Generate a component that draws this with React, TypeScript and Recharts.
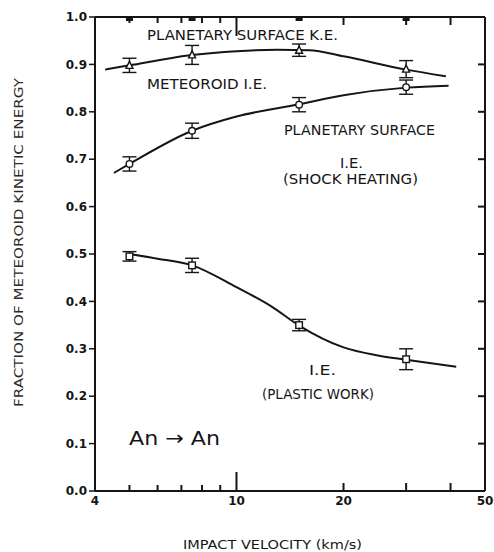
import React from "react";
import {
  ComposedChart,
  ErrorBar,
  Line,
  Scatter,
  XAxis,
  YAxis,
} from "recharts";

// measured impact velocities (km/s)
const SAMPLE_V = [5, 7.5, 15, 30];

// fraction of kinetic energy at each measured velocity, with error half-widths
const KE_MEAN = [0.898, 0.92, 0.93, 0.89];
const KE_ERR = [0.015, 0.02, 0.013, 0.018];
const SHOCK_MEAN = [0.69, 0.76, 0.815, 0.852];
const SHOCK_ERR = [0.015, 0.016, 0.015, 0.015];
const PLASTIC_MEAN = [0.495, 0.476, 0.35, 0.278];
const PLASTIC_ERR = [0.01, 0.015, 0.012, 0.022];
const TOTAL = [1.0, 1.0, 1.0, 1.0];

// hand drawn fit curves
const KE_CURVE_V = [4.27, 5, 7.5, 10, 13, 16, 20, 30, 38.8];
const KE_CURVE = [0.889, 0.898, 0.92, 0.928, 0.931, 0.93, 0.917, 0.889, 0.875];
const SHOCK_CURVE_V = [4.52, 5, 7.5, 10, 15, 20, 30, 39.5];
const SHOCK_CURVE = [0.671, 0.69, 0.76, 0.79, 0.816, 0.835, 0.851, 0.855];
const PLASTIC_CURVE_V = [5, 6, 7.5, 10, 12.5, 15, 20, 25, 30, 41.5];
const PLASTIC_CURVE = [0.5, 0.49, 0.476, 0.43, 0.39, 0.349, 0.303, 0.286, 0.277, 0.262];

const X_TICKS = [4, 5, 6, 7, 8, 9, 10, 20, 30, 40, 50];
const X_LABELS = [4, 10, 20, 50];
const Y_TICKS = [0, 0.1, 0.2, 0.3, 0.4, 0.5, 0.6, 0.7, 0.8, 0.9, 1.0];

const INK = "#151515";
const FONT = "DejaVu Sans, sans-serif";

const pts = (xs: number[], ys: number[], errs?: number[]) =>
  xs.map((x, i) => ({ x, y: ys[i], err: errs ? errs[i] : 0 }));

const tickLen = (v: number) => (v === 10 ? 19 : v >= 20 ? 8 : 6);

function BottomTick({ x, y, payload }: any) {
  const v = payload.value;
  return (
    <g>
      <line x1={x} x2={x} y1={y} y2={y - tickLen(v)} stroke={INK} strokeWidth={2} />
      {X_LABELS.includes(v) && (
        <text x={x} y={y + 14} textAnchor="middle" fontFamily={FONT} fontWeight="bold" fontSize={12} fill={INK}>
          {v}
        </text>
      )}
    </g>
  );
}

// mirrored axes: ticks point into the plot
function TopTick({ x, y, payload }: any) {
  const v = payload.value;
  return <line x1={x} x2={x} y1={y} y2={y + tickLen(v)} stroke={INK} strokeWidth={2} />;
}

function RightTick({ x, y }: any) {
  return <line x1={x} x2={x - 7} y1={y} y2={y} stroke={INK} strokeWidth={2} />;
}

const Triangle = ({ cx, cy }: any) => (
  <polygon
    points={`${cx},${cy - 4} ${cx - 3.5},${cy + 3} ${cx + 3.5},${cy + 3}`}
    fill="#fff"
    stroke={INK}
    strokeWidth={1.4}
  />
);
const Ring = ({ cx, cy }: any) => (
  <circle cx={cx} cy={cy} r={3.3} fill="#fff" stroke={INK} strokeWidth={1.4} />
);
const Box = ({ cx, cy }: any) => (
  <rect x={cx - 3.3} y={cy - 3.3} width={6.6} height={6.6} fill="#fff" stroke={INK} strokeWidth={1.4} />
);
const Solid = ({ cx, cy }: any) => (
  <rect x={cx - 3.5} y={cy} width={7} height={4} fill={INK} />
);
const Nothing = () => <g />;

function Note({ x, y, w, size = 14, children }: any) {
  return (
    <text
      x={x}
      y={y}
      textLength={w}
      lengthAdjust="spacingAndGlyphs"
      fontFamily={FONT}
      fontSize={size}
      fill={INK}
    >
      {children}
    </text>
  );
}

export default function App() {
  return (
    <div style={{ position: "absolute", left: 0, top: 0, width: 494, height: 552, background: "#fff" }}>
      <ComposedChart width={494} height={552} margin={{ top: 0, right: 0, bottom: 0, left: 0 }}>
        <XAxis
          xAxisId="b"
          dataKey="x"
          type="number"
          scale="log"
          domain={[4, 50]}
          allowDataOverflow
          ticks={X_TICKS}
          interval={0}
          height={61}
          tickSize={0}
          tickMargin={0}
          tickLine={false}
          tick={<BottomTick />}
          axisLine={{ stroke: INK, strokeWidth: 2 }}
        />
        <XAxis
          xAxisId="t"
          dataKey="x"
          orientation="top"
          type="number"
          scale="log"
          domain={[4, 50]}
          allowDataOverflow
          ticks={X_TICKS}
          interval={0}
          height={17}
          tickSize={0}
          tickMargin={0}
          tickLine={false}
          tick={<TopTick />}
          axisLine={{ stroke: INK, strokeWidth: 2 }}
        />
        <YAxis
          yAxisId="l"
          type="number"
          domain={[0, 1]}
          ticks={Y_TICKS}
          interval={0}
          width={95}
          tickSize={6}
          tickMargin={2}
          tickFormatter={(v: number) => v.toFixed(1)}
          tick={{ fill: INK, fontSize: 12, fontWeight: "bold", fontFamily: FONT }}
          tickLine={{ stroke: INK, strokeWidth: 1.5 }}
          axisLine={{ stroke: INK, strokeWidth: 2 }}
        />
        <YAxis
          yAxisId="r"
          orientation="right"
          type="number"
          domain={[0, 1]}
          ticks={Y_TICKS.slice(1, 10)}
          interval={0}
          width={9}
          tickSize={0}
          tickMargin={0}
          tickLine={false}
          tick={<RightTick />}
          axisLine={{ stroke: INK, strokeWidth: 2 }}
        />

        <Line xAxisId="b" yAxisId="l" data={pts(KE_CURVE_V, KE_CURVE)} dataKey="y" type="monotone" stroke={INK} strokeWidth={2} dot={false} isAnimationActive={false} />
        <Line xAxisId="b" yAxisId="l" data={pts(SHOCK_CURVE_V, SHOCK_CURVE)} dataKey="y" type="monotone" stroke={INK} strokeWidth={2} dot={false} isAnimationActive={false} />
        <Line xAxisId="b" yAxisId="l" data={pts(PLASTIC_CURVE_V, PLASTIC_CURVE)} dataKey="y" type="monotone" stroke={INK} strokeWidth={2} dot={false} isAnimationActive={false} />

        <Scatter xAxisId="b" yAxisId="l" data={pts(SAMPLE_V, KE_MEAN, KE_ERR)} dataKey="y" shape={<Triangle />} isAnimationActive={false}>
          <ErrorBar dataKey="err" direction="y" width={7} stroke={INK} strokeWidth={1.4} />
        </Scatter>
        <Scatter xAxisId="b" yAxisId="l" data={pts(SAMPLE_V, SHOCK_MEAN, SHOCK_ERR)} dataKey="y" shape={<Ring />} isAnimationActive={false}>
          <ErrorBar dataKey="err" direction="y" width={7} stroke={INK} strokeWidth={1.4} />
        </Scatter>
        <Scatter xAxisId="b" yAxisId="l" data={pts(SAMPLE_V, PLASTIC_MEAN, PLASTIC_ERR)} dataKey="y" shape={<Box />} isAnimationActive={false}>
          <ErrorBar dataKey="err" direction="y" width={7} stroke={INK} strokeWidth={1.4} />
        </Scatter>
        <Scatter xAxisId="b" yAxisId="l" data={pts(SAMPLE_V, TOTAL)} dataKey="y" shape={<Solid />} isAnimationActive={false} />
        {/* invisible series so the mirrored top and right axes get drawn */}
        <Scatter xAxisId="t" yAxisId="r" data={pts(SAMPLE_V, TOTAL)} dataKey="y" shape={<Nothing />} isAnimationActive={false} />
      </ComposedChart>

      <svg width={494} height={552} style={{ position: "absolute", left: 0, top: 0, pointerEvents: "none" }}>
        <Note x={147} y={40} w={191}>PLANETARY SURFACE K.E.</Note>
        <Note x={147} y={89} w={120}>METEOROID I.E.</Note>
        <Note x={284} y={135} w={151}>PLANETARY SURFACE</Note>
        <Note x={340} y={167.5} w={23}>I.E.</Note>
        <Note x={283} y={184} w={135}>(SHOCK HEATING)</Note>
        <Note x={309} y={375} w={27}>I.E.</Note>
        <Note x={262} y={399} w={112}>(PLASTIC WORK)</Note>
        <Note x={129} y={445} w={91} size={20}>An → An</Note>
        <Note x={183} y={549} w={179} size={13}>IMPACT VELOCITY (km/s)</Note>
        <text
          transform="translate(23,407) rotate(-90)"
          textLength={329}
          lengthAdjust="spacingAndGlyphs"
          fontFamily={FONT}
          fontSize={13}
          fill="#2a2a2a"
        >
          FRACTION OF METEOROID KINETIC ENERGY
        </text>
      </svg>
    </div>
  );
}
